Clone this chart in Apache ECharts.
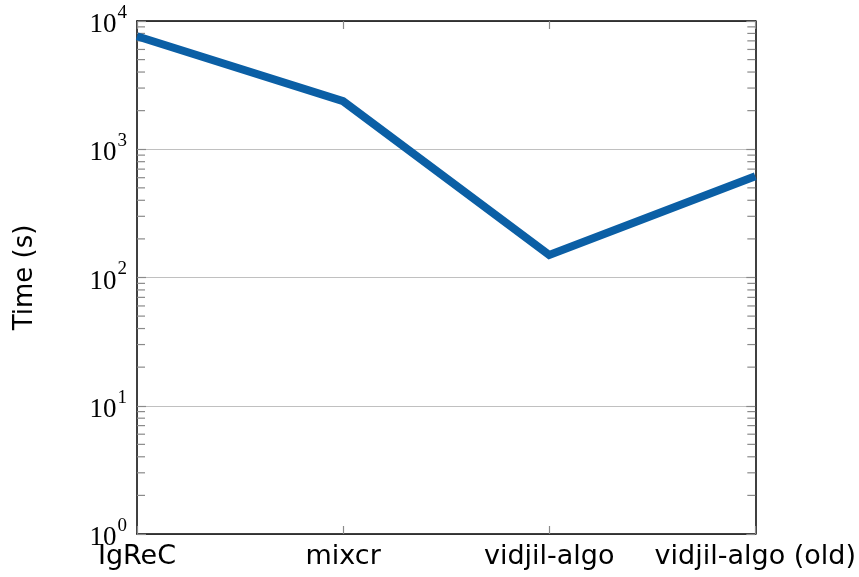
<!DOCTYPE html>
<html>
<head>
<meta charset="utf-8">
<script src="https://cdn.jsdelivr.net/npm/echarts@6/dist/echarts.min.js"></script>
<style>
  html, body { margin: 0; padding: 0; background: #fff; }
  #chart { width: 859px; height: 577px; }
</style>
</head>
<body>
<div id="chart"></div>
<script>
// Run times per tool (seconds)
const tools = ['IgReC', 'mixcr', 'vidjil-algo', 'vidjil-algo (old)'];
const times = [7600, 2370, 150, 615];
const yMin = 1;
const yMax = 10000;
const yName = 'Time (s)';

// Minor tick values 2..9 x 10^k inside each decade of the log axis
const minorTickValues = [];
for (let k = 0; k < 4; k++) {
  for (let m = 2; m <= 9; m++) minorTickValues.push([0, m * Math.pow(10, k)]);
}

const grayTick = '#8a8a8a';
const serif = '"Liberation Serif", "DejaVu Serif", serif';
const sans = '"DejaVu Sans", "Noto Sans", sans-serif';

function powLabel(v) {
  const e = Math.round(Math.log10(v));
  return '{b|10}{s|' + e + '}';
}

const chart = echarts.init(document.getElementById('chart'), null, { renderer: 'canvas' });

const yAxisCommon = {
  type: 'log',
  logBase: 10,
  min: yMin,
  max: yMax,
  axisLine: { show: true, lineStyle: { color: '#000', width: 1.5 } },
  axisTick: { show: true, inside: true, length: 9, lineStyle: { color: grayTick, width: 1.2 } },
  minorTick: { show: false }
};

chart.setOption({
  animation: false,
  backgroundColor: '#fff',
  grid: { left: 137, right: 103, top: 21, bottom: 43, containLabel: false },
  xAxis: [
    {
      type: 'category',
      data: tools,
      boundaryGap: false,
      position: 'bottom',
      axisLine: { show: true, lineStyle: { color: '#000', width: 1.5 } },
      axisTick: { show: true, inside: true, length: 8, alignWithLabel: true, lineStyle: { color: grayTick, width: 1.2 } },
      axisLabel: { color: '#000', fontFamily: sans, fontSize: 27, margin: 9, interval: 0 },
      splitLine: { show: false }
    },
    {
      type: 'category',
      data: tools,
      boundaryGap: false,
      position: 'top',
      axisLine: { show: true, lineStyle: { color: '#000', width: 1.5 } },
      axisTick: { show: true, inside: true, length: 8, lineStyle: { color: grayTick, width: 1.2 } },
      axisLabel: { show: false },
      splitLine: { show: false }
    }
  ],
  yAxis: [
    Object.assign({}, yAxisCommon, {
      position: 'left',
      name: yName,
      nameLocation: 'middle',
      nameGap: 99,
      nameRotate: 90,
      nameTextStyle: { color: '#000', fontFamily: sans, fontSize: 26 },
      splitLine: { show: true, lineStyle: { color: '#c0c0c0', width: 1.2 } },
      axisLabel: {
        color: '#000',
        margin: 10,
        formatter: powLabel,
        rich: {
          b: { fontFamily: serif, fontSize: 27, color: '#000', padding: [8, 0, 0, 0] },
          s: { fontFamily: serif, fontSize: 19, color: '#000', verticalAlign: 'top', padding: [0, 0, 10, 1] }
        }
      }
    }),
    Object.assign({}, yAxisCommon, {
      position: 'right',
      splitLine: { show: false },
      axisLabel: { show: false }
    })
  ],
  series: [
    {
      type: 'custom',
      name: 'minorTicks',
      xAxisIndex: 0,
      yAxisIndex: 0,
      silent: true,
      clip: false,
      data: minorTickValues,
      renderItem: function (params, api) {
        const y = api.coord([0, api.value(1)])[1];
        const cs = params.coordSys;
        const len = 8;
        const style = { stroke: grayTick, lineWidth: 1.2 };
        return {
          type: 'group',
          children: [
            { type: 'line', shape: { x1: cs.x, y1: y, x2: cs.x + len, y2: y }, style: style },
            { type: 'line', shape: { x1: cs.x + cs.width - len, y1: y, x2: cs.x + cs.width, y2: y }, style: style }
          ]
        };
      }
    },
    {
      type: 'line',
      name: 'time',
      data: times,
      xAxisIndex: 0,
      yAxisIndex: 0,
      showSymbol: false,
      symbol: 'none',
      clip: true,
      lineStyle: { color: '#0b5fa5', width: 8, join: 'miter', cap: 'butt' },
      z: 5
    }
  ]
});
</script>
</body>
</html>
